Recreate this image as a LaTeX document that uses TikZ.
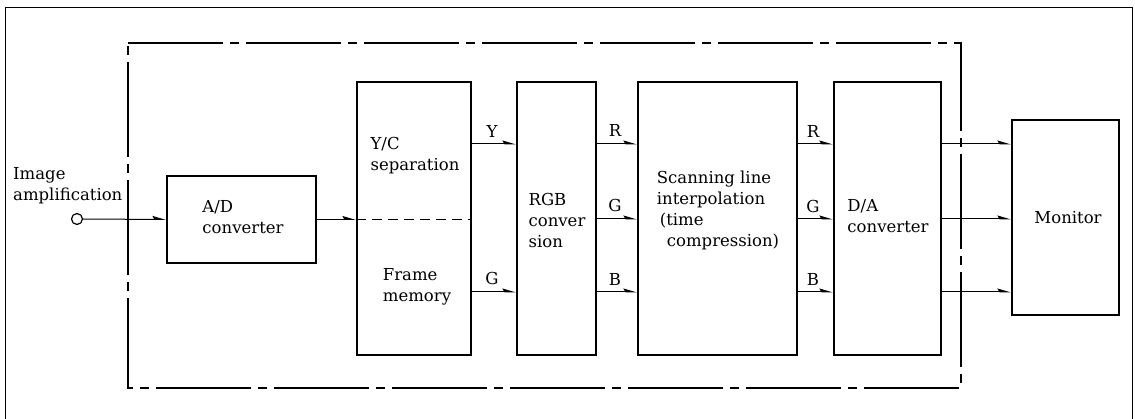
\documentclass[tikz,border=0pt]{standalone}
\usepackage{fontspec}
\setmainfont{DejaVu Serif}
\usetikzlibrary{arrows.meta}
\begin{document}
\begin{tikzpicture}[x=1pt,y=-1pt,
  font=\fontsize{16.5}{21}\selectfont,
  box/.style={draw, line width=1.8pt, inner sep=0pt},
  txt/.style={align=left, inner sep=0pt},
  lbl/.style={inner sep=0pt},
  conn/.style={line width=1pt, -{Stealth[harpoon,length=12pt,width=7pt,inset=2pt]}},
  dashdot/.style={line width=1.3pt, dash pattern=on 95pt off 7pt on 9pt off 7pt},
  frame/.style={line width=1pt}]
\useasboundingbox (0,0) rectangle (1135,419);
% outer frame
\draw[frame] (5,419) -- (5,8) -- (1132,8) -- (1132,419);
% dash-dot enclosure
\draw[dashdot] (128,43) -- (961,43) -- (961,388) -- (128,388) -- cycle;
% boxes
\node[box, minimum width=149pt, minimum height=87pt] (ad) at (241.5,219.5) {};
\node[box, minimum width=114pt, minimum height=273pt] (yc) at (414,218.5) {};
\node[box, minimum width=79pt, minimum height=273pt] (rgb) at (556.5,218.5) {};
\node[box, minimum width=159pt, minimum height=273pt] (scan) at (717.5,218.5) {};
\node[box, minimum width=107pt, minimum height=273pt] (da) at (887.5,218.5) {};
\node[box, minimum width=107pt, minimum height=195pt] (mon) at (1065.5,217.5) {};
% dashed divider in Y/C box
\draw[line width=1pt, dash pattern=on 10pt off 6pt] (yc.west |- 0,220) -- (yc.east |- 0,220);
% texts
\node[txt] (tad) at (243,217) {A/D\\converter};
\node[txt] (tyc) at (415,156) {Y/C\\separation};
\node[txt] (tfm) at (417,287) {Frame\\memory};
\node[txt] (trgb) at (557,220) {RGB\\conver\\sion};
\node[txt] (tscan) at (718,210) {Scanning line\\interpolation\\\hspace{3pt}(time\\\hspace{10pt}compression)};
\node[txt] (tda) at (888,216) {D/A\\converter};
\node[txt] (tmon) at (1068,218) {Monitor};
\node[txt, anchor=west] (tin) at (13,186) {Image\\amplification};
% input
\node[draw, circle, line width=1.2pt, minimum size=11pt, inner sep=0pt] (in) at (77,219) {};
\draw[conn] (in.east) -- (ad.west);
\draw[conn] (ad.east) -- (yc.west |- ad.east);
% Y/C -> RGB
\draw[conn] (yc.east |- 0,144) -- (rgb.west |- 0,144);
\draw[conn] (yc.east |- 0,292) -- (rgb.west |- 0,292);
% RGB -> scan
\draw[conn] (rgb.east |- 0,144) -- (scan.west |- 0,144);
\draw[conn] (rgb.east |- 0,219) -- (scan.west |- 0,219);
\draw[conn] (rgb.east |- 0,292) -- (scan.west |- 0,292);
% scan -> D/A
\draw[conn] (scan.east |- 0,144) -- (da.west |- 0,144);
\draw[conn] (scan.east |- 0,219) -- (da.west |- 0,219);
\draw[conn] (scan.east |- 0,292) -- (da.west |- 0,292);
% D/A -> monitor
\draw[conn] (da.east |- 0,144) -- (mon.west |- 0,144);
\draw[conn] (da.east |- 0,219) -- (mon.west |- 0,219);
\draw[conn] (da.east |- 0,292) -- (mon.west |- 0,292);
% signal labels
\node[lbl] (lY) at (492,131) {Y};
\node[lbl] (lG1) at (492,278) {G};
\node[lbl] (lR2) at (615,130) {R};
\node[lbl] (lG2) at (615,205) {G};
\node[lbl] (lB2) at (615,279) {B};
\node[lbl] (lR3) at (813,131) {R};
\node[lbl] (lG3) at (813,206) {G};
\node[lbl] (lB3) at (813,279) {B};
\end{tikzpicture}
\end{document}
